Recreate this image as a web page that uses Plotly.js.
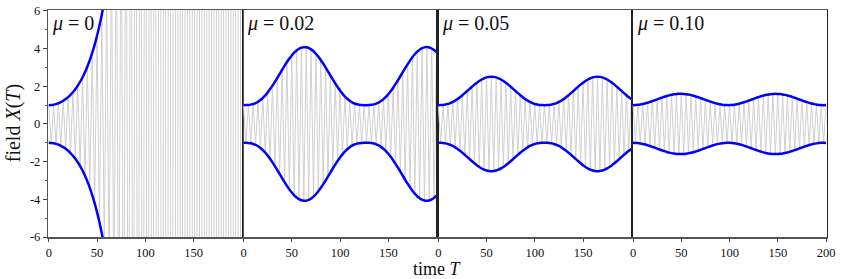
<!DOCTYPE html>
<html>
<head>
<meta charset="utf-8">
<script src="https://cdn.plot.ly/plotly-3.0.1.min.js"></script>
<style>html,body{margin:0;padding:0;background:#fff;}#chart{width:842px;height:279px;}</style>
</head>
<body>
<div id="chart"></div>
<script>
// time grid: carrier peaks every half period (2.5 time units)
const T = Array.from({length: 81}, (_, i) => i * 2.5);

// envelope amplitudes at each T above
const env_mu0 = [1.000,1.006,1.025,1.056,1.101,1.159,1.231,1.319,1.423,1.545,1.685,1.847,2.032,2.241,2.479,2.747,3.049,3.389,3.771,4.200,4.681,5.22,5.82,6.50,7.24,8.10,9.05,10.1,11.3,12.6,14.1,15.7,17.6,19.7,22.0,24.6,27.5,30.7,34.3,38.4,42.9,47.9,53.6,59.9,66.9,74.8,83.6,93.4,104,117,130,146,163,182,203,227,254,284,317,355,396,443,495,553,618,691,772,863,965,1078,1205,1347,1505,1682,1880,2102,2349,2626,2935,3280,3666];
const env_mu002 = [1.000,1.001,1.009,1.027,1.061,1.111,1.182,1.273,1.387,1.521,1.676,1.849,2.037,2.239,2.449,2.664,2.878,3.088,3.288,3.472,3.639,3.785,3.902,3.993,4.051,4.077,4.072,4.032,3.961,3.859,3.729,3.575,3.400,3.208,3.003,2.791,2.577,2.363,2.157,1.961,1.778,1.612,1.465,1.340,1.234,1.151,1.088,1.045,1.018,1.005,1.000,1.000,1.003,1.015,1.039,1.079,1.137,1.216,1.316,1.438,1.581,1.742,1.923,2.117,2.321,2.533,2.748,2.962,3.167,3.363,3.543,3.699,3.836,3.942,4.021,4.067,4.080,4.060,4.007,3.923,3.810];
const env_mu005 = [1.000,1.002,1.012,1.031,1.064,1.109,1.168,1.240,1.324,1.420,1.524,1.635,1.750,1.866,1.980,2.089,2.192,2.283,2.362,2.425,2.472,2.500,2.510,2.500,2.472,2.425,2.362,2.283,2.192,2.089,1.980,1.866,1.750,1.635,1.524,1.420,1.324,1.240,1.168,1.109,1.064,1.031,1.012,1.002,1.000,1.002,1.012,1.031,1.064,1.109,1.168,1.240,1.324,1.420,1.524,1.635,1.750,1.866,1.980,2.089,2.192,2.283,2.362,2.425,2.472,2.500,2.510,2.500,2.472,2.425,2.362,2.283,2.192,2.089,1.980,1.866,1.750,1.635,1.524,1.420,1.324];
const env_mu010 = [1.000,1.004,1.015,1.034,1.059,1.090,1.127,1.168,1.213,1.259,1.307,1.355,1.401,1.445,1.484,1.520,1.549,1.573,1.589,1.598,1.600,1.594,1.580,1.559,1.532,1.499,1.461,1.419,1.373,1.326,1.278,1.232,1.186,1.144,1.105,1.071,1.043,1.022,1.007,1.001,1.001,1.010,1.025,1.048,1.077,1.112,1.151,1.195,1.241,1.288,1.336,1.383,1.427,1.469,1.506,1.538,1.564,1.583,1.595,1.600,1.597,1.586,1.568,1.544,1.513,1.477,1.436,1.392,1.345,1.298,1.250,1.204,1.160,1.120,1.084,1.053,1.029,1.012,1.002,1.000,1.005];

const envelopes = [env_mu0, env_mu002, env_mu005, env_mu010];
const muLabels = ['0', '0.02', '0.05', '0.10'];
const xTickVals = [0, 50, 100, 150];
const xTickValsLast = [0, 50, 100, 150, 200];
const yTickVals = [-6, -4, -2, 0, 2, 4, 6];
const yTickText = ['-6', '-4', '-2', '0', '2', '4', '6'];

const FONT = '"Liberation Serif", "DejaVu Serif", serif';
const traces = [];
const layout = {
  width: 842, height: 279,
  margin: {l: 48, r: 15, t: 10, b: 42},
  paper_bgcolor: '#fff', plot_bgcolor: '#fff',
  showlegend: false,
  font: {family: FONT, size: 12, color: '#111'},
  annotations: []
};

envelopes.forEach((env, i) => {
  const n = i === 0 ? '' : String(i + 1);
  const xa = 'x' + n, ya = 'y' + n;
  traces.push({
    x: T, y: env.map((a, k) => (k % 2 === 0 ? a : -a)),
    xaxis: xa, yaxis: ya, mode: 'lines', hoverinfo: 'skip',
    line: {color: '#d0d0d0', width: 1}
  });
  traces.push({
    x: T, y: env, xaxis: xa, yaxis: ya, mode: 'lines',
    line: {color: 'rgb(0,0,255)', width: 2.5, shape: 'spline', smoothing: 0.6}
  });
  traces.push({
    x: T, y: env.map(a => -a), xaxis: xa, yaxis: ya, mode: 'lines',
    line: {color: 'rgb(0,0,255)', width: 2.5, shape: 'spline', smoothing: 0.6}
  });
  layout['xaxis' + n] = {
    domain: [i * 0.25, (i + 1) * 0.25],
    anchor: ya,
    range: [-0.8, 201],
    tickmode: 'array',
    tickvals: i === 3 ? xTickValsLast : xTickVals,
    ticks: 'outside', ticklen: 3, tickcolor: '#444',
    showgrid: false, zeroline: false,
    showline: true, linecolor: '#555', linewidth: 1.5, mirror: true,
    tickfont: {family: FONT, size: 12.5, color: '#111'}
  };
  layout['yaxis' + n] = {
    anchor: xa,
    range: [-6, 6.05],
    showgrid: false, zeroline: false,
    showline: true, linecolor: i === 0 ? '#555' : '#222', linewidth: 1.2, mirror: true,
    showticklabels: i === 0,
    ticks: i === 0 ? 'outside' : '',
    tickmode: 'array', tickvals: yTickVals, ticktext: yTickText,
    ticklen: 4, tickcolor: '#444',
    tickfont: {family: FONT, size: 12.5, color: '#111'},
    minor: i === 0 ? {tickmode: 'linear', tick0: -6, dtick: 1, ticks: 'outside', ticklen: 2, tickcolor: '#666'} : undefined
  };
  layout.annotations.push({
    xref: xa + ' domain', yref: ya + ' domain', x: 0.012, y: 1.0,
    xanchor: 'left', yanchor: 'top', showarrow: false,
    text: '<i>μ</i> = ' + muLabels[i],
    font: {family: FONT, size: 20, color: '#111'}
  });
});

layout.annotations.push({
  xref: 'paper', yref: 'paper', x: 0.5, y: -0.09, xanchor: 'center', yanchor: 'top',
  showarrow: false, text: 'time <i>T</i>', font: {family: FONT, size: 18, color: '#111'}
});
layout.annotations.push({
  xref: 'paper', yref: 'paper', x: -0.044, y: 0.5, xanchor: 'center', yanchor: 'middle',
  textangle: -90, showarrow: false, text: 'field <i>X</i>(<i>T</i>)',
  font: {family: FONT, size: 20, color: '#111'}
});

Plotly.newPlot('chart', traces, layout, {staticPlot: true, displayModeBar: false});
</script>
</body>
</html>
